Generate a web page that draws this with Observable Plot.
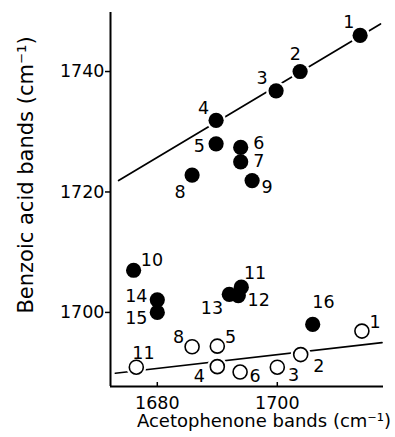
<!DOCTYPE html>
<html>
<head>
<meta charset="utf-8">
<script src="https://cdn.jsdelivr.net/npm/d3@7"></script>
<script src="https://cdn.jsdelivr.net/npm/@observablehq/plot@0.6"></script>
<style>
  html, body { margin: 0; padding: 0; background: white; }
</style>
</head>
<body>
<div id="chart"></div>
<script>
// Axis text
const xLabel = "Acetophenone bands (cm⁻¹)";
const yLabel = "Benzoic acid bands (cm⁻¹)";
const xTicks = [1680, 1700];
const yTicks = [1700, 1720, 1740];
const xDomain = [1672.2, 1717.7];
const yDomain = [1687.7, 1749.8];

// Filled circles (numbered 1-16)
const filledNames = ["1","2","3","4","5","6","7","8","9","10","11","12","13","14","15","16"];
const filledX = [1713.8, 1703.8, 1699.8, 1689.8, 1689.8, 1693.9, 1693.9, 1685.8, 1695.8, 1676.05, 1694.0, 1693.5, 1692.0, 1680.0, 1680.0, 1705.9];
const filledY = [1746.0, 1740.0, 1736.8, 1731.9, 1728.0, 1727.4, 1725.0, 1722.8, 1721.9, 1707.0, 1704.2, 1702.8, 1703.0, 1702.1, 1700.0, 1698.0];
const filledLabelX = [1711.9, 1703.0, 1697.45, 1687.7, 1687.0, 1696.9, 1696.9, 1683.8, 1698.3, 1679.1, 1696.3, 1696.9, 1689.1, 1676.5, 1676.5, 1707.7];
const filledLabelY = [1748.2, 1742.9, 1738.8, 1733.8, 1727.6, 1728.0, 1725.0, 1720.0, 1720.8, 1708.7, 1706.5, 1702.0, 1700.6, 1702.6, 1699.0, 1701.7];

// Open circles
const openNames = ["1","2","3","4","5","6","8","11"];
const openX = [1714.1, 1703.9, 1700.0, 1690.0, 1690.0, 1693.8, 1685.8, 1676.5];
const openY = [1696.9, 1693.0, 1690.9, 1691.0, 1694.4, 1690.1, 1694.3, 1690.9];
const openLabelX = [1716.3, 1706.9, 1702.7, 1687.0, 1692.2, 1696.3, 1683.55, 1677.7];
const openLabelY = [1698.4, 1691.0, 1689.6, 1689.3, 1695.9, 1689.3, 1695.9, 1693.2];

// Fitted lines
const upperLineX = [1673.55, 1717.2];
const upperLineY = [1721.9, 1747.9];
const lowerLineX = [1673.0, 1717.45];
const lowerLineY = [1689.9, 1695.0];

const filled = filledNames.map((n, i) => ({n, x: filledX[i], y: filledY[i], lx: filledLabelX[i], ly: filledLabelY[i]}));
const open = openNames.map((n, i) => ({n, x: openX[i], y: openY[i], lx: openLabelX[i], ly: openLabelY[i]}));
const upper = upperLineX.map((x, i) => ({x, y: upperLineY[i]}));
const lower = lowerLineX.map((x, i) => ({x, y: lowerLineY[i]}));
const allDots = filled.concat(open);

const chart = Plot.plot({
  width: 395,
  height: 437,
  marginLeft: 110,
  marginRight: 12,
  marginTop: 12,
  marginBottom: 51,
  style: {fontFamily: "DejaVu Sans", fontSize: "17px", background: "white", color: "black"},
  x: {domain: xDomain},
  y: {domain: yDomain},
  marks: [
    Plot.line(upper, {x: "x", y: "y", stroke: "black", strokeWidth: 1.7}),
    Plot.line(lower, {x: "x", y: "y", stroke: "black", strokeWidth: 1.7}),
    Plot.dot(allDots, {x: "x", y: "y", r: 10, fill: "white", stroke: "none"}),
    Plot.dot(filled, {x: "x", y: "y", r: 7.6, fill: "black", stroke: "none"}),
    Plot.dot(open, {x: "x", y: "y", r: 7, fill: "white", stroke: "black", strokeWidth: 1.6}),
    Plot.text(filled, {x: "lx", y: "ly", text: "n", fontSize: 17.5, fill: "black"}),
    Plot.text(open, {x: "lx", y: "ly", text: "n", fontSize: 17.5, fill: "black"}),
    Plot.ruleX([xDomain[0]], {stroke: "black", strokeWidth: 2}),
    Plot.ruleY([yDomain[0]], {stroke: "black", strokeWidth: 2}),
    Plot.axisY({ticks: yTicks, tickSize: 5, tickPadding: 1, fontSize: 17.5, label: null, strokeWidth: 1.5, tickFormat: d => String(d)}),
    Plot.axisX({ticks: xTicks, tickSize: -4, tickPadding: 14, fontSize: 17.5, label: null, strokeWidth: 1.5, tickFormat: d => String(d)}),
    Plot.text([yLabel], {text: d => d, frameAnchor: "left", textAnchor: "middle", rotate: -90, dx: -84, dy: -24.5, fontSize: 21, fill: "black"}),
    Plot.text([xLabel], {text: d => d, frameAnchor: "bottom", textAnchor: "middle", dx: 17, dy: 40.5, fontSize: 18, fill: "black"})
  ]
});
document.getElementById("chart").appendChild(chart);
</script>
</body>
</html>
